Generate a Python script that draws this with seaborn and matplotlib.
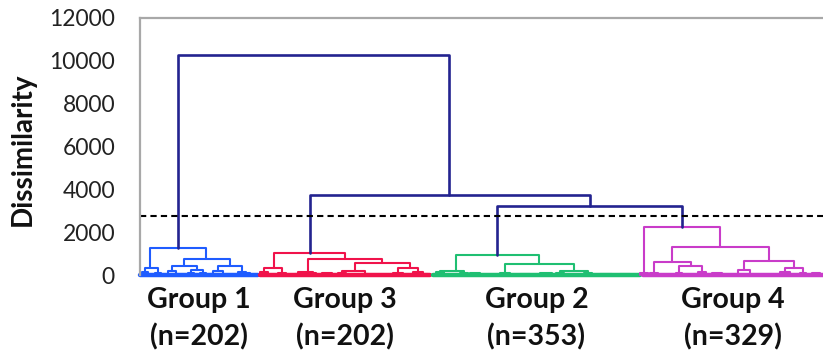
import numpy as np
import pandas as pd
import matplotlib
matplotlib.use('Agg')
import matplotlib.pyplot as plt
import matplotlib.transforms as mtransforms
import seaborn as sns

# groups (left to right on the dendrogram), leaf extents on the x scale
group_ids = ['g1', 'g3', 'g2', 'g4']
group_names = ['Group 1', 'Group 3', 'Group 2', 'Group 4']
group_sizes = [202, 202, 353, 329]
group_start = [0, 120, 293, 503]
group_end = [118, 290, 500, 683]

# upper links (above the cut), dark blue
top_left = [38, 170, 357]
top_right = [309, 450, 542]
top_height = [10250, 3750, 3200]
top_bottom_left = [1280, 1040, 935]
top_bottom_right = [3750, 3200, 2260]

# links inside each group
link_group = (['g1'] * 16 + ['g3'] * 17 + ['g2'] * 14 + ['g4'] * 15)
link_left = [10, 5, 44, 32, 78, 2, 15, 28, 34, 51, 48, 60, 73, 70, 98, 103,
             134, 124, 168, 158, 215, 202, 258, 120, 138, 155, 170, 182, 198, 222, 253, 273, 280,
             316, 300, 365, 420, 296, 320, 330, 360, 380, 400, 416, 444, 460, 480,
             504, 532, 514, 539, 604, 645, 500, 510, 536, 558, 572, 598, 640, 660, 672]
link_right = [66, 18, 90, 57, 102, 8, 21, 36, 38, 63, 54, 66, 83, 76, 106, 110,
              205, 142, 242, 173, 270, 225, 278, 128, 146, 161, 176, 192, 206, 228, 263, 283, 288,
              399, 324, 434, 448, 304, 328, 340, 370, 390, 412, 424, 452, 472, 490,
              580, 629, 551, 562, 654, 663, 508, 518, 542, 566, 582, 610, 650, 666, 680]
link_height = [1280, 330, 750, 420, 400, 120, 90, 200, 60, 250, 80, 100, 200, 70, 150, 90,
               1040, 310, 750, 160, 545, 200, 330, 120, 100, 60, 80, 100, 80, 60, 100, 150, 60,
               935, 200, 500, 200, 120, 80, 80, 100, 60, 80, 80, 100, 60, 50,
               2260, 1300, 590, 435, 655, 310, 80, 100, 100, 150, 80, 230, 120, 100, 80]
link_bottom_left = [330, 120, 420, 200, 200, 0, 0, 0, 0, 80, 0, 0, 70, 0, 0, 0,
                    310, 120, 160, 60, 200, 80, 100, 0, 0, 0, 0, 0, 0, 0, 0, 60, 0,
                    200, 120, 100, 80, 0, 0, 0, 0, 0, 0, 0, 0, 0, 0,
                    80, 590, 100, 100, 230, 120, 0, 0, 0, 0, 0, 80, 0, 0, 0]
link_bottom_right = [750, 90, 400, 250, 150, 0, 0, 60, 0, 100, 0, 0, 0, 0, 90, 0,
                     750, 100, 545, 80, 330, 60, 150, 0, 0, 0, 0, 0, 0, 0, 0, 0, 0,
                     500, 80, 200, 100, 0, 0, 0, 0, 0, 0, 0, 0, 0, 0,
                     1300, 655, 435, 150, 310, 100, 0, 0, 0, 0, 0, 0, 0, 0, 0]

cut_height = 2750

palette = {'g1': '#1f5cff', 'g3': '#f0134b', 'g2': '#1fbf72', 'g4': '#c93cc9'}
navy = '#23238f'


def link_frame(left, right, height, b_left, b_right, group=None):
    rows = []
    for i in range(len(left)):
        g = group[i] if group is not None else 'top'
        pts = [(left[i], b_left[i]), (left[i], height[i]),
               (right[i], height[i]), (right[i], b_right[i])]
        for k, (x, y) in enumerate(pts):
            rows.append({'link': i, 'order': k, 'x': x, 'y': y, 'group': g})
    return pd.DataFrame(rows)


sns.set_theme(style='white')
plt.rcParams['font.family'] = ['Lato', 'DejaVu Sans']

fig = plt.figure(figsize=(8.23, 3.55), dpi=100)
ax = fig.add_axes([140 / 823, 1 - 275 / 355, 683 / 823, 257 / 355])

# baseline strip of leaves for each group
base = pd.DataFrame({
    'x': group_start + group_end,
    'y': [0] * 8,
    'group': group_ids * 2,
})
sns.lineplot(data=base, x='x', y='y', hue='group', units='group', estimator=None,
             palette=palette, legend=False, lw=3.2, clip_on=False, ax=ax)

df_groups = link_frame(link_left, link_right, link_height,
                       link_bottom_left, link_bottom_right, link_group)
sns.lineplot(data=df_groups, x='x', y='y', hue='group', units='link', estimator=None,
             sort=False, palette=palette, legend=False, lw=1.5, clip_on=False, ax=ax)

df_top = link_frame(top_left, top_right, top_height, top_bottom_left, top_bottom_right)
sns.lineplot(data=df_top, x='x', y='y', units='link', estimator=None, sort=False,
             color=navy, legend=False, lw=1.9, ax=ax)

ax.axhline(cut_height, color='black', lw=1.5, ls=(0, (3, 2)))

ax.set_xlim(0, 683)
ax.set_ylim(0, 12000)
ax.set_yticks(range(0, 12001, 2000))
ax.set_xticks([])
ax.set_xlabel('')
ax.set_ylabel('Dissimilarity', fontsize=20, fontweight='bold', color='#111111')
ax.yaxis.set_label_coords(-0.152, 0.49)
ax.tick_params(axis='y', direction='inout', length=12, width=1.2, color='#a0a0a0',
               labelsize=16.5, labelcolor='#222222', pad=12)

for side in ['right', 'bottom']:
    ax.spines[side].set_visible(False)
for side in ['top', 'left']:
    ax.spines[side].set_color('#a8a8a8')
    ax.spines[side].set_linewidth(1.6)

trans = mtransforms.blended_transform_factory(ax.transData, ax.transAxes)
for name, n, s, e in zip(group_names, group_sizes, group_start, group_end):
    ax.text((s + e) / 2, -0.045, f'{name}\n(n={n})', transform=trans,
            ha='center', va='top', fontsize=20.5, fontweight='bold',
            linespacing=1.5, color='#111111')

fig.savefig('out.png', dpi=100)
